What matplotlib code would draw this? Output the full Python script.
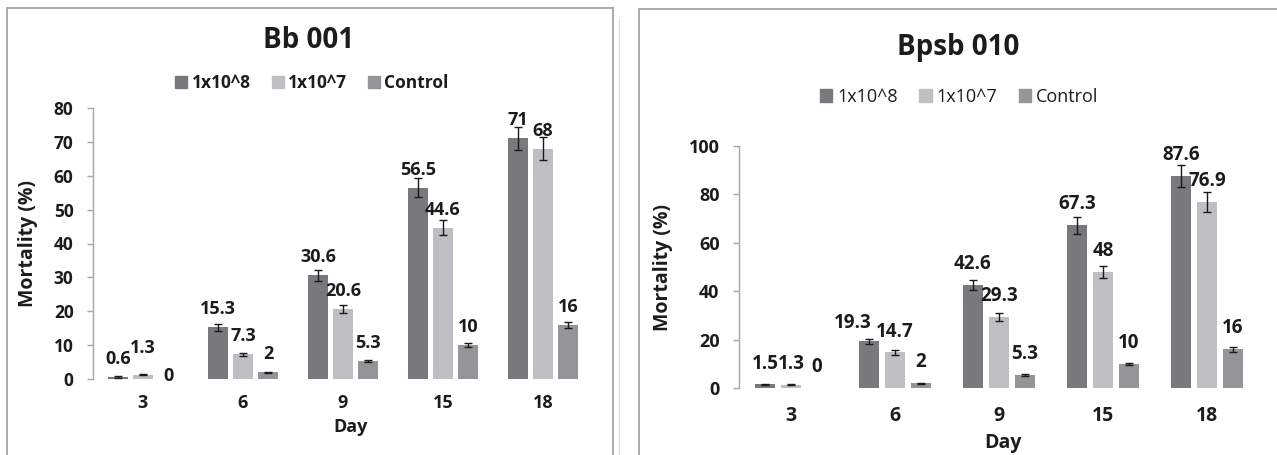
import matplotlib
matplotlib.use("Agg")
import matplotlib.pyplot as plt
from matplotlib.patches import Rectangle
from matplotlib.lines import Line2D
import numpy as np

plt.rcParams['font.family'] = ['Open Sans', 'DejaVu Sans']

# ---- data ----
days = ["3", "6", "9", "15", "18"]
series_names = ["1x10^8", "1x10^7", "Control"]

bb_high = [0.6, 15.3, 30.6, 56.5, 71]
bb_low = [1.3, 7.3, 20.6, 44.6, 68]
bb_ctrl = [0, 2, 5.3, 10, 16]
bb_high_err = [0.2, 1.0, 1.6, 2.8, 3.4]
bb_low_err = [0.2, 0.4, 1.1, 2.2, 3.4]
bb_ctrl_err = [0.0, 0.2, 0.2, 0.5, 0.8]

bp_high = [1.5, 19.3, 42.6, 67.3, 87.6]
bp_low = [1.3, 14.7, 29.3, 48, 76.9]
bp_ctrl = [0, 2, 5.3, 10, 16]
bp_high_err = [0.2, 1.0, 2.2, 3.5, 4.4]
bp_low_err = [0.2, 1.2, 1.7, 2.4, 4.0]
bp_ctrl_err = [0.0, 0.2, 0.3, 0.3, 1.0]

colors = ["#78797d", "#bebfc2", "#949599"]
TEXT = "#1c1c1c"
W, H = 1277, 455

fig = plt.figure(figsize=(W / 100, H / 100), dpi=100)


def fx(px):
    return px / W


def fy(py):
    return 1 - py / H


# panel frames
fig.patches.append(Rectangle((fx(7), -0.1), fx(606), fy(8) + 0.1,
                             transform=fig.transFigure, fill=False,
                             edgecolor="#a3a3a3", lw=1.3, zorder=0))
fig.patches.append(Rectangle((fx(639), -0.1), fx(700), fy(9) + 0.1,
                             transform=fig.transFigure, fill=False,
                             edgecolor="#a3a3a3", lw=1.3, zorder=0))
fig.lines.append(Line2D([fx(619), fx(619)], [fy(20), 0],
                        transform=fig.transFigure, color="#dadada", lw=0.8))


def draw_panel(rect, values, errors, ymax, ystep, title, title_xy, legend_xy,
               legend_bold, fs, label_off, nudges, ylab_xy, xlab_xy):
    ax = fig.add_axes(rect)
    x = np.arange(len(days))
    width, step = 0.2, 0.25
    for i, (vals, errs) in enumerate(zip(values, errors)):
        pos = x + (i - 1) * step
        ax.bar(pos, vals, width, color=colors[i], label=series_names[i])
        vals_a, errs_a = np.array(vals, float), np.array(errs, float)
        keep = errs_a > 0
        ax.errorbar(pos[keep], vals_a[keep], yerr=errs_a[keep], fmt="none",
                    ecolor="#1a1a1a", elinewidth=1.0, capthick=1.0, capsize=3)
        for j, v in enumerate(vals):
            dx, dy = nudges.get((i, j), (0, 0))
            ax.annotate(f"{v:g}", (pos[j], v), xytext=(dx, label_off + dy),
                        textcoords="offset points", ha="center", va="center",
                        fontsize=fs["data"], fontweight="bold", color=TEXT)
    ax.set_xlim(-0.5, len(days) - 0.5)
    ax.set_ylim(0, ymax)
    ax.set_yticks(np.arange(0, ymax + 1, ystep))
    ax.set_xticks(x)
    ax.set_xticklabels(days)
    for s in ["top", "right", "bottom"]:
        ax.spines[s].set_visible(False)
    ax.spines["left"].set_color("#a6a6a6")
    ax.spines["left"].set_linewidth(1.0)
    ax.tick_params(axis="y", length=4, width=1.0, color="#a6a6a6",
                   labelsize=fs["ytick"], pad=fs["ypad"], labelcolor=TEXT)
    ax.tick_params(axis="x", length=0, labelsize=fs["xtick"], pad=fs["xpad"],
                   labelcolor=TEXT)
    for t in ax.get_xticklabels() + ax.get_yticklabels():
        t.set_fontweight("bold")
    ax.text(ylab_xy[0], ylab_xy[1], "Mortality (%)", transform=ax.transAxes,
            rotation=90, ha="center", va="center", fontsize=fs["ylab"],
            fontweight="bold", color=TEXT)
    ax.text(xlab_xy[0], xlab_xy[1], "Day", transform=ax.transAxes,
            ha="center", va="center", fontsize=fs["xlab"],
            fontweight="bold", color=TEXT)
    fig.text(fx(title_xy[0]), fy(title_xy[1]), title, ha="center",
             va="baseline", fontsize=fs["title"], fontweight="bold",
             color=TEXT)
    handles = [Rectangle((0, 0), 1, 1, color=colors[k]) for k in range(3)]
    leg = fig.legend(handles, series_names, loc="center",
                     bbox_to_anchor=(fx(legend_xy[0]), fy(legend_xy[1])),
                     ncol=3, frameon=False, handlelength=0.7,
                     handleheight=0.7, handletextpad=0.25, columnspacing=1.2,
                     prop=dict(family=["Open Sans", "DejaVu Sans"],
                               size=fs["legend"],
                               weight="bold" if legend_bold else "normal"))
    for t in leg.get_texts():
        t.set_color(TEXT)
    return ax


fs_left = dict(data=13, ytick=12.5, xtick=13, ypad=10, xpad=11, ylab=14,
               xlab=13, title=20, legend=12.5)
draw_panel([fx(93), fy(379), fx(500), 271 / H],
           [bb_high, bb_low, bb_ctrl], [bb_high_err, bb_low_err, bb_ctrl_err],
           80, 10, "Bb 001", (309, 48), (312, 83), True, fs_left, 13,
           {(1, 0): (0, 6), (2, 0): (0, -11)},
           (-0.13, 0.5), (0.516, -0.177))

fs_right = dict(data=13.5, ytick=13, xtick=14, ypad=10, xpad=13, ylab=14,
                xlab=14, title=20, legend=13)
draw_panel([fx(739), fy(388), fx(520), 242 / H],
           [bp_high, bp_low, bp_ctrl], [bp_high_err, bp_low_err, bp_ctrl_err],
           100, 20, "Bpsb 010", (958, 55), (959, 97), False, fs_right, 15,
           {(0, 1): (-12, -2)},
           (-0.146, 0.496), (0.508, -0.227))

fig.savefig("out.png", dpi=100)
